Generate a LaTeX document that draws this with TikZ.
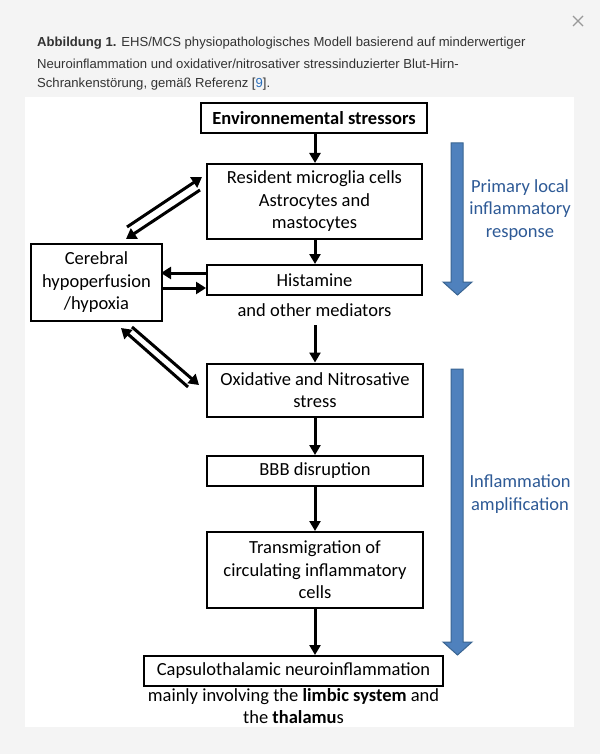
\documentclass[tikz,border=0pt]{standalone}
\usepackage{fontspec}
\setmainfont{Carlito}
\newfontfamily\capfont{Liberation Sans}
\usetikzlibrary{arrows.meta}
\definecolor{bggray}{HTML}{F4F4F4}
\definecolor{captext}{HTML}{333333}
\definecolor{linkblue}{HTML}{2A6EBB}
\definecolor{arrfill}{HTML}{4F81BD}
\definecolor{arrdraw}{HTML}{3A6592}
\definecolor{bluetext}{RGB}{46,90,150}
\begin{document}
\begin{tikzpicture}[x=1pt,y=-1pt,
  box/.style={draw, line width=2pt, inner sep=0pt, align=center,
    font=\fontsize{18.5}{22.5}\selectfont},
  plain/.style={inner sep=0pt, align=center, font=\fontsize{18.5}{22.5}\selectfont},
  flow/.style={line width=3pt, -{Triangle[length=10pt,width=11pt]}},
  side/.style={line width=3pt, -{Triangle[length=10pt,width=12pt]}},
  bigarrow/.style={fill=arrfill, draw=arrdraw, line width=1pt},
  bluelab/.style={inner sep=0pt, align=center, text=bluetext,
    font=\fontsize{18.5}{22.5}\selectfont},
  captionline/.style={inner sep=0pt, anchor=west, text=captext,
    font=\capfont\fontsize{13.1}{16}\selectfont}]
\useasboundingbox (0,0) rectangle (600,754);
\fill[bggray] (0,0) rectangle (600,754);
\fill[white] (25,97) rectangle (574,727);

% close mark
\draw[gray!80, line width=1.3pt] (573,16) -- (583,26) (583,16) -- (573,26);

% caption
\node[captionline] (cap1) at (37,43) {\textbf{Abbildung 1.} EHS/MCS physiopathologisches Modell basierend auf minderwertiger};
\node[captionline] (cap2) at (37,64) {Neuroinflammation und oxidativer/nitrosativer stressinduzierter Blut-Hirn-};
\node[captionline] (cap3) at (37,84) {Schrankenstörung, gemäß Referenz [{\color{linkblue}9}].};

% boxes
\node[box, minimum width=226pt, minimum height=30pt] (env) at (314,118) {\textbf{Environnemental stressors}};
\node[box, minimum width=215pt, minimum height=75pt] (res) at (314.5,201.5) {Resident microglia cells\\Astrocytes and\\mastocytes};
\node[box, minimum width=215pt, minimum height=30pt] (hist) at (314.5,280) {Histamine};
\node[plain] (med) at (314.5,310) {and other mediators};
\coordinate (medb) at (315,325);
\node[box, minimum width=216pt, minimum height=53pt] (ox) at (315,390) {Oxidative and Nitrosative\\stress};
\node[box, minimum width=216pt, minimum height=30pt] (bbb) at (315,471) {BBB disruption};
\node[box, minimum width=216pt, minimum height=76pt] (trans) at (315,570) {Transmigration of\\circulating inflammatory\\cells};
\node[box, minimum width=299pt, minimum height=30pt] (caps) at (293.5,671) {Capsulothalamic neuroinflammation};
\node[plain] (capsnote) at (293.5,706) {mainly involving the \textbf{limbic system} and\\the \textbf{thalamu}s};
\node[box, minimum width=131pt, minimum height=77pt] (cer) at (96.5,282.5) {Cerebral\\hypoperfusion\\/hypoxia};

% main flow
\draw[flow] (env.south -| medb) -- (res.north -| medb);
\draw[flow] (res.south -| medb) -- (hist.north -| medb);
\draw[flow] (medb) -- (ox.north -| medb);
\draw[flow] (ox.south) -- (bbb.north);
\draw[flow] (bbb.south) -- (trans.north);
\draw[flow] (trans.south -| medb) -- (caps.north -| medb);

% side arrows
\coordinate (a1s) at (127,227); \coordinate (a1e) at (202,177);
\coordinate (a2s) at (200,190); \coordinate (a2e) at (126,239);
\coordinate (h1s) at (207,273); \coordinate (h1e) at (161,273);
\coordinate (h2s) at (162,288); \coordinate (h2e) at (206,288);
\coordinate (b1s) at (188,387); \coordinate (b1e) at (121,328);
\coordinate (b2s) at (132,327); \coordinate (b2e) at (199,385);
\draw[side] (a1s) -- (a1e);
\draw[side] (a2s) -- (a2e);
\draw[side] (h1s) -- (h1e);
\draw[side] (h2s) -- (h2e);
\draw[side] (b1s) -- (b1e);
\draw[side] (b2s) -- (b2e);

% big blue arrows
\draw[bigarrow] (451,143) -- (463,143) -- (463,282) -- (472,282) -- (457.5,295) -- (443,282) -- (451,282) -- cycle;
\draw[bigarrow] (451,369) -- (463,369) -- (463,642) -- (472,642) -- (457.5,655) -- (443,642) -- (451,642) -- cycle;
\node[bluelab] (lab1) at (520,210) {Primary local\\inflammatory\\response};
\node[bluelab] (lab2) at (520,494) {Inflammation\\amplification};
\end{tikzpicture}
\end{document}
